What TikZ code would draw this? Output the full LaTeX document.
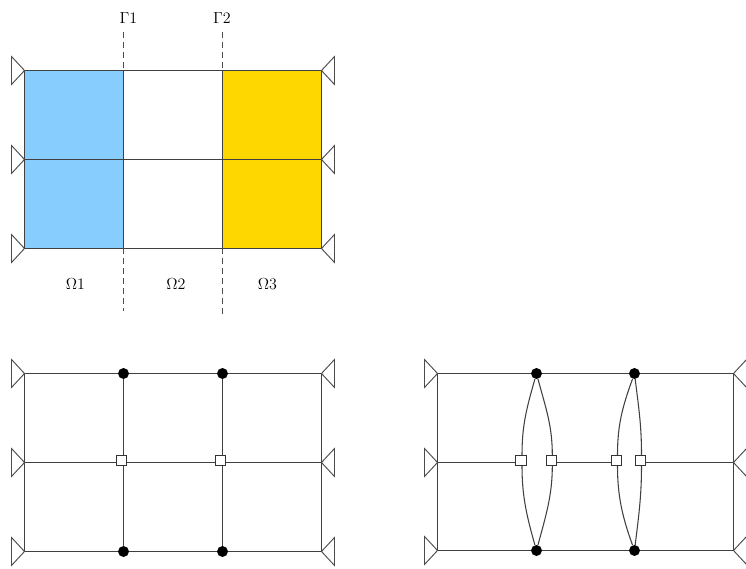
\documentclass[tikz,border=0pt]{standalone}
\usepackage{amsmath,amssymb}
\usetikzlibrary{calc}
\definecolor{subblue}{HTML}{87CEFF}
\definecolor{subgold}{HTML}{FFD700}
\tikzset{
  mesh/.style={draw=black!75,line width=0.8pt},
  cut/.style={draw=black!70,line width=0.75pt,dash pattern=on 4.5pt off 3pt},
  dofdot/.style={circle,fill=black,inner sep=0pt,minimum size=8.2pt},
  dofbox/.style={rectangle,draw=black!80,fill=white,line width=0.7pt,inner sep=0pt,minimum size=7.6pt},
  dofname/.style={font=\large},
  supleft/.pic={\draw[draw=black!70,line width=0.7pt,fill=white] (0,0)--(-13,-14)--(-13,14)--cycle;},
  supright/.pic={\draw[draw=black!70,line width=0.7pt,fill=white] (0,0)--(13,-14)--(13,14)--cycle;}
}

\begin{document}
\begin{tikzpicture}[x=0.75pt,y=0.75pt]
  \useasboundingbox (0,0) rectangle (746,568);
  % grid points
  \foreach \i/\x in {1/24.5,2/123.5,3/222.5,4/321.5}{
    \foreach \j/\y in {1/497.5,2/408.5,3/319.5}{\coordinate (a\i\j) at (\x,\y);}
    \foreach \j/\y in {1/194.5,2/105.5,3/16.5}{\coordinate (b\i\j) at (\x,\y);}
  }
  \foreach \i/\x in {1/437.5,2/536.5,3/634.5,4/733.5}
    \foreach \j/\y in {1/194.5,2/105.5,3/17.5}{\coordinate (c\i\j) at (\x,\y);}

  % top: the three subdomains
  \fill[subblue] (a11) rectangle (a23);
  \fill[subgold] (a31) rectangle (a43);
  \draw[mesh] (a11) rectangle (a43);
  \draw[mesh] (a12)--(a42);
  \draw[mesh] (a21)--(a23);
  \draw[mesh] (a31)--(a33);
  \coordinate (g1top) at (123.5,536);
  \coordinate (g2top) at (222.5,536);
  \coordinate (g1end) at (123.5,257);
  \coordinate (g2end) at (222.5,250);
  \draw[cut] (g1top)--(a21);
  \draw[cut] (g2top)--(a31);
  \draw[cut] (a23)--(g1end);
  \draw[cut] (a33)--(g2end);
  \node[dofname] (gamma1) at (128.5,550) {$\Gamma$1};
  \node[dofname] (gamma2) at (222,550) {$\Gamma$2};
  \node[dofname] (omega1) at (75.5,284) {$\Omega$1};
  \node[dofname] (omega2) at (176,284) {$\Omega$2};
  \node[dofname] (omega3) at (267.5,284) {$\Omega$3};

  % bottom left: whole mesh
  \draw[mesh] (b11) rectangle (b43);
  \draw[mesh] (b12)--(b42);
  \draw[mesh] (b21)--(b23);
  \draw[mesh] (b31)--(b33);
  \foreach \i in {2,3}{
    \node[dofdot] (bt\i) at (b\i1) {};
    \node[dofdot] (bb\i) at (b\i3) {};
  }
  \node[dofbox] (bs2) at (121.5,107.5) {};
  \node[dofbox] (bs3) at (220.5,107.5) {};

  % bottom right: split mesh
  \node[dofbox] (p1) at (521,107.5) {};
  \node[dofbox] (p2) at (551.3,107.5) {};
  \node[dofbox] (p3) at (616.5,107.5) {};
  \node[dofbox] (p4) at (640.5,107.5) {};
  \draw[mesh] (c11)--(c41);
  \draw[mesh] (c13)--(c43);
  \draw[mesh] (c11)--(c13);
  \draw[mesh] (c41)--(c43);
  \draw[mesh] (c12)--(c12-|p1.west);
  \draw[mesh] (c12-|p2.east)--(c12-|p3.west);
  \draw[mesh] (c12-|p4.east)--(c42);
  \foreach \i in {2,3}{
    \node[dofdot] (ct\i) at (c\i1) {};
    \node[dofdot] (cb\i) at (c\i3) {};
  }
  \foreach \t/\s/\b/\a in {ct2/p1/cb2/-106,ct2/p2/cb2/-75,ct3/p3/cb3/-110,ct3/p4/cb3/-83}{
    \draw[mesh] (\t) to[out=\a,in=90,out distance=23pt,in distance=22pt] ($(\s.north)+(1,0)$);
    \draw[mesh] (\b) to[out=-\a,in=-90,out distance=23pt,in distance=22pt] ($(\s.south)+(1,0)$);
  }

  % supports
  \foreach \g in {a,b,c}{
    \foreach \j in {1,2,3}{
      \pic at (\g1\j) {supleft};
      \pic at (\g4\j) {supright};
    }
  }
\end{tikzpicture}
\end{document}
